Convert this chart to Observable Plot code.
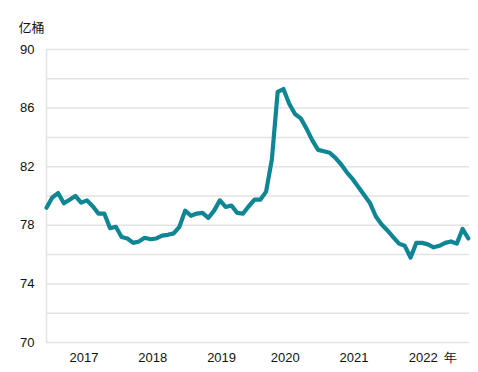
<!DOCTYPE html>
<html>
<head>
<meta charset="utf-8">
<script src="https://cdn.jsdelivr.net/npm/d3@7"></script>
<script src="https://cdn.jsdelivr.net/npm/@observablehq/plot@0.6"></script>
<style>
  html, body { margin: 0; padding: 0; background: #fff; }
  #chart svg { display: block; }
</style>
</head>
<body>
<div id="chart"></div>
<script>
// Monthly inventory (亿桶), Dec 2016 .. Jan 2023 (index 0..73)
const monthIndex = d3.range(74);
const inventory = [
  79.2, 79.9, 80.2, 79.5, 79.75, 80.0, 79.55, 79.7, 79.3, 78.8,
  78.8, 77.8, 77.9, 77.2, 77.1, 76.8, 76.9, 77.15, 77.05, 77.1,
  77.3, 77.35, 77.45, 77.9, 79.0, 78.65, 78.8, 78.85, 78.5, 79.0,
  79.7, 79.25, 79.35, 78.85, 78.8, 79.3, 79.75, 79.75, 80.3, 82.5,
  87.1, 87.3, 86.3, 85.6, 85.3, 84.6, 83.8, 83.15, 83.05, 82.95,
  82.6, 82.15, 81.6, 81.15, 80.6, 80.05, 79.5, 78.6, 78.05, 77.65,
  77.2, 76.75, 76.6, 75.8, 76.8, 76.8, 76.7, 76.5, 76.6, 76.8,
  76.9, 76.75, 77.75, 77.1
];
const xTickLabels = ["2017", "2018", "2019", "2020", "2021", "2022", "年"];
const xTickPositions = [6.5, 18.4, 30.3, 41.3, 53.2, 65.2, 69.9];
const yTickLabels = [70, 74, 78, 82, 86, 90];
const yGrid = d3.range(70, 91, 2);
const unitLabel = "亿桶";

const data = monthIndex.map((i) => ({ i, v: inventory[i] }));
const labelOf = new Map(xTickPositions.map((p, k) => [p, xTickLabels[k]]));

const font = "'Liberation Sans', Arial, sans-serif";

const chart = Plot.plot({
  width: 478,
  height: 372,
  marginTop: 49,
  marginBottom: 30,
  marginLeft: 46,
  marginRight: 9,
  style: { fontFamily: font, fontSize: "13px", color: "#111", background: "#fff" },
  x: { domain: [0, 73.2], axis: null },
  y: { domain: [70, 90], axis: null },
  marks: [
    Plot.gridY(yGrid, { stroke: "#e3e3e3", strokeOpacity: 1, strokeWidth: 1.5 }),
    Plot.ruleX([0], { y1: 70, y2: 90, stroke: "#e3e3e3", strokeWidth: 1.5 }),
    Plot.axisY(yTickLabels, {
      tickSize: 0, tickPadding: 12, label: null, fontSize: 13, fill: "#111"
    }),
    Plot.axisX(xTickPositions, {
      tickSize: 0, tickPadding: 10, label: null, fontSize: 13, fill: "#111",
      tickFormat: (d) => labelOf.get(d)
    }),
    Plot.text([unitLabel], {
      frameAnchor: "top-left", text: (d) => d, dx: -28, dy: -27,
      fontSize: 13, fill: "#111", textAnchor: "start",
      fontFamily: "'Noto Sans CJK SC', sans-serif"
    }),
    Plot.line(data, {
      x: "i", y: "v", stroke: "#108594", strokeWidth: 4.2,
      strokeLinejoin: "round", strokeLinecap: "round", curve: "linear"
    })
  ]
});
document.getElementById("chart").append(chart);
</script>
</body>
</html>
